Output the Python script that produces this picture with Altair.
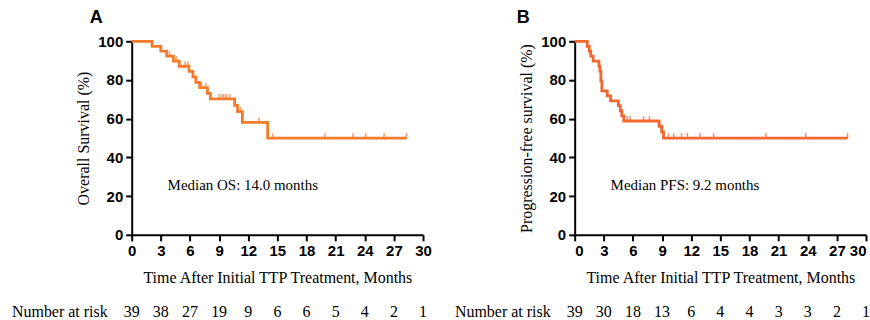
import altair as alt
import pandas as pd

# ---------------- data ----------------
risk_months = [0, 3, 6, 9, 12, 15, 18, 21, 24, 27, 30]
risk_A = [39, 38, 27, 19, 9, 6, 6, 5, 4, 2, 1]
risk_B = [39, 30, 18, 13, 6, 4, 4, 3, 3, 2, 1]

os_time = [0, 2.1, 3.0, 3.6, 4.3, 4.9, 5.9, 6.3, 6.6, 7.0, 7.8, 8.1, 10.6, 10.9, 11.4, 14.0, 28.3]
os_surv = [100, 97.4, 94.9, 92.3, 89.7, 87.1, 84.4, 81.6, 78.8, 76.0, 73.1, 70.2, 66.9, 63.6, 58.1, 50.0, 50.0]
os_cens_time = [3.9, 4.6, 5.5, 5.8, 7.2, 7.6, 9.0, 9.3, 9.5, 9.8, 10.1, 11.2, 13.1, 14.5, 19.9, 22.8, 24.1, 26.0, 28.3]
os_cens_surv = [92.3, 89.7, 87.1, 87.1, 76.0, 76.0, 70.2, 70.2, 70.2, 70.2, 70.2, 63.6, 58.1, 50.0, 50.0, 50.0, 50.0, 50.0, 50.0]

pfs_time = [0, 1.3, 1.5, 1.65, 1.9, 2.5, 2.6, 2.7, 2.8, 3.35, 3.7, 4.5, 4.7, 4.85, 5.05, 8.7, 8.95, 9.15, 28.1]
pfs_surv = [100, 97.4, 94.9, 92.3, 89.7, 87.2, 84.6, 79.5, 74.4, 71.8, 69.2, 66.7, 64.1, 61.5, 58.8, 56.1, 53.2, 50.0, 50.0]
pfs_cens_time = [5.4, 5.7, 7.1, 7.7, 9.66, 10.2, 11.0, 11.6, 12.9, 14.3, 19.7, 23.8, 28.1]
pfs_cens_surv = [58.8, 58.8, 58.8, 58.8, 50.0, 50.0, 50.0, 50.0, 50.0, 50.0, 50.0, 50.0, 50.0]

x_title = "Time After Initial TTP Treatment, Months"
SERIF = "Liberation Serif"
SANS = "Liberation Sans"


def panel(times, surv, ctimes, csurv, risk, ytitle, median, letter, letter_x, color, flush):
    xs = alt.Scale(domain=[0, 30], nice=False, zero=False)
    ys = alt.Scale(domain=[0, 100], nice=False)
    xax = alt.Axis(values=risk_months, labelFlush=flush, title=x_title)
    yax = alt.Axis(values=[0, 20, 40, 60, 80, 100], title=ytitle)

    def xe(f):
        return alt.X(f, type="quantitative", scale=xs, axis=xax, title=x_title)

    def ye(f):
        return alt.Y(f, type="quantitative", scale=ys, axis=yax, title=ytitle)

    line = alt.Chart(pd.DataFrame({"t": times, "s": surv})).mark_line(
        interpolate="step-after", color=color, strokeWidth=2.8
    ).encode(x=xe("t"), y=ye("s"))

    cens = alt.Chart(pd.DataFrame({"t": ctimes, "s": csurv})).mark_tick(
        orient="vertical", size=5, thickness=1.6, color=color, yOffset=-2.5
    ).encode(x=xe("t"), y=ye("s"))

    risk_txt = alt.Chart(pd.DataFrame({"t": risk_months, "n": risk})).mark_text(
        font=SERIF, fontSize=16, color="black", baseline="middle"
    ).encode(x=xe("t"), y=alt.value(271), text="n:Q")

    risk_lab = alt.Chart(pd.DataFrame({"l": ["Number at risk"]})).mark_text(
        font=SERIF, fontSize=16, color="black", align="left", baseline="middle"
    ).encode(x=alt.value(-120), y=alt.value(271), text="l:N")

    med = alt.Chart(pd.DataFrame({"l": [median]})).mark_text(
        font=SERIF, fontSize=15, color="black", align="left", baseline="middle"
    ).encode(x=alt.value(36), y=alt.value(144), text="l:N")

    let = alt.Chart(pd.DataFrame({"l": [letter]})).mark_text(
        font=SANS, fontSize=18, fontWeight="bold", color="black", align="left", baseline="middle"
    ).encode(x=alt.value(letter_x), y=alt.value(-23), text="l:N")

    return alt.layer(line, cens, risk_txt, risk_lab, med, let).properties(width=292, height=194)


pA = panel(os_time, os_surv, os_cens_time, os_cens_surv, risk_A,
           "Overall Survival (%)", "Median OS: 14.0 months", "A", -42, "#F47B2C", False)
pB = panel(pfs_time, pfs_surv, pfs_cens_time, pfs_cens_surv, risk_B,
           "Progression-free survival (%)", "Median PFS: 9.2 months", "B", -58, "#F26630", True)

chart = alt.hconcat(pA, pB, spacing=152, bounds="flush").properties(
    padding={"left": 12, "top": 9, "right": 0, "bottom": 0}
).configure_view(stroke=None).configure_axis(
    grid=False,
    domainColor="black", domainWidth=2,
    tickColor="black", tickWidth=2, tickSize=6,
    labelFont=SANS, labelFontWeight="bold", labelFontSize=15, labelColor="black", labelPadding=3,
    titleFont=SERIF, titleFontWeight="normal", titleFontSize=16, titleColor="black",
).configure_axisX(titlePadding=11).configure_axisY(titlePadding=6)

chart.save("out.html", embed_options={"renderer": "svg", "actions": False})
